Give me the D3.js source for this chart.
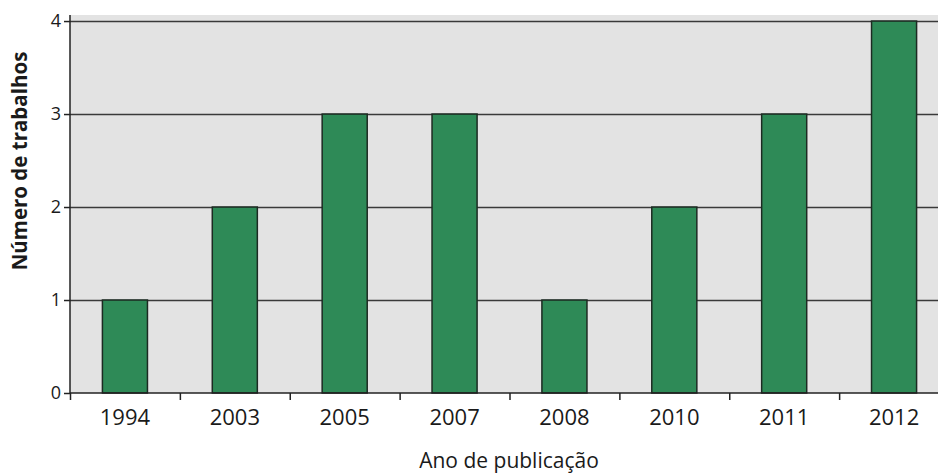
<!DOCTYPE html>
<html>
<head>
<meta charset="utf-8">
<script src="https://cdn.jsdelivr.net/npm/d3@7"></script>
<style>
  body { margin: 0; background: #fff; }
  svg { display: block; }
  text { font-family: "Open Sans", "Noto Sans", sans-serif; fill: #1a1a1a; }
</style>
</head>
<body>
<svg id="chart" width="938" height="474"></svg>
<script>
// data
var years = ["1994", "2003", "2005", "2007", "2008", "2010", "2011", "2012"];
var counts = [1, 2, 3, 3, 1, 2, 3, 4];
var yTicks = [0, 1, 2, 3, 4];

var width = 938, height = 474;
var padding = {top: 15, left: 70, bottom: 81};
var plotWidth = 879;   // runs past the right edge, as in the picture
var plotHeight = height - padding.top - padding.bottom;

var svg = d3.select("#chart");
var canvas = svg.append("g")
    .attr("transform", "translate(" + padding.left + "," + padding.top + ")");

var x = d3.scaleBand()
    .domain(years)
    .range([0, plotWidth])
    .paddingInner(0.59)
    .paddingOuter(0.295);

var y = d3.scaleLinear()
    .domain([0, 4.065])
    .range([plotHeight, 0]);

// grey plot background
canvas.append("rect")
    .attr("x", 0).attr("y", 0)
    .attr("width", plotWidth).attr("height", plotHeight)
    .style("fill", "#e3e3e3");

// horizontal grid lines
canvas.selectAll("line.grid")
    .data(yTicks.slice(1))
    .enter()
    .append("line")
    .attr("class", "grid")
    .attr("x1", 0).attr("x2", plotWidth)
    .attr("y1", function(d) { return Math.round(y(d)) + 0.5; })
    .attr("y2", function(d) { return Math.round(y(d)) + 0.5; })
    .style("stroke", "#3a3a3a")
    .style("stroke-width", 1.5);

// bars
canvas.selectAll("rect.bar")
    .data(counts)
    .enter()
    .append("rect")
    .attr("class", "bar")
    .attr("x", function(d, i) { return x(years[i]); })
    .attr("y", function(d) { return y(d); })
    .attr("width", x.bandwidth())
    .attr("height", function(d) { return plotHeight - y(d); })
    .style("fill", "#2e8a57")
    .style("stroke", "#1c2a22")
    .style("stroke-width", 1.5);

// x axis: ticks sit between categories
var xPos = d3.scaleLinear().domain([0, years.length]).range([0, plotWidth]);
var xAxis = d3.axisBottom(xPos)
    .tickValues(d3.range(0, years.length + 1))
    .tickSize(7)
    .tickFormat("");
var gX = canvas.append("g")
    .attr("class", "axis axis--x")
    .attr("transform", "translate(0," + plotHeight + ")")
    .call(xAxis);
gX.selectAll("path, line").style("stroke", "#222").style("stroke-width", 1.5);
gX.select("path").attr("d", "M0,0H" + plotWidth);

canvas.selectAll("text.xlab")
    .data(years)
    .enter()
    .append("text")
    .attr("class", "xlab")
    .attr("x", function(d) { return x(d) + x.bandwidth() / 2; })
    .attr("y", plotHeight + 32)
    .attr("text-anchor", "middle")
    .style("font-size", "22px")
    .text(function(d) { return d; });

// y axis
var yAxis = d3.axisLeft(y)
    .tickValues(yTicks)
    .tickSize(6)
    .tickPadding(3)
    .tickFormat(d3.format("d"));
var gY = canvas.append("g")
    .attr("class", "axis axis--y")
    .call(yAxis);
gY.selectAll("path, line").style("stroke", "#222").style("stroke-width", 1.5);
gY.select("path").attr("d", "M0," + plotHeight + "V0");
gY.selectAll("text")
    .style("font-size", "18px")
    .style("font-family", "'Open Sans', 'Noto Sans', sans-serif")
    .style("fill", "#1a1a1a");

// axis titles
svg.append("text")
    .attr("x", 509)
    .attr("y", 468)
    .attr("text-anchor", "middle")
    .style("font-size", "21px")
    .text("Ano de publicação");

svg.append("text")
    .attr("transform", "translate(27,161) rotate(-90)")
    .attr("text-anchor", "middle")
    .style("font-size", "20.5px")
    .style("font-weight", "bold")
    .text("Número de trabalhos");
</script>
</body>
</html>
